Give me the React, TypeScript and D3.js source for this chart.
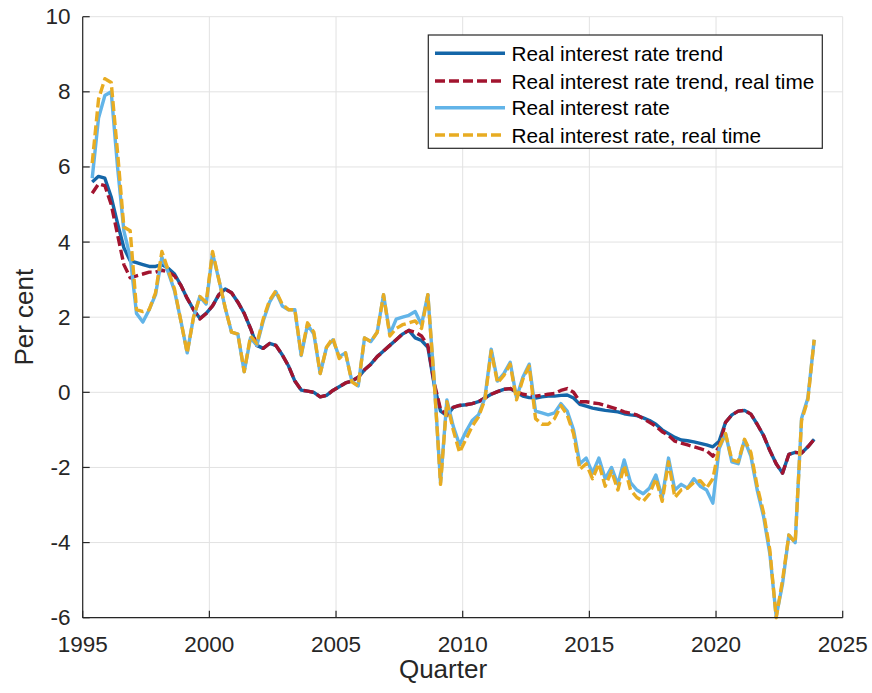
import React from "react";
import * as d3 from "d3";

// Quarterly observations, 1995Q2 .. 2023Q4 (plotted at mid-quarter)
const startYear = 1995;
const startQuarter = 2;
const nObs = 115;

const trend = [
  5.6, 5.75, 5.7, 5.2, 4.5, 3.85, 3.5, 3.45, 3.4, 3.35,
  3.35, 3.4, 3.3, 3.15, 2.85, 2.5, 2.2, 1.97, 2.1, 2.3,
  2.6, 2.75, 2.65, 2.4, 2.1, 1.7, 1.25, 1.17, 1.3, 1.25,
  1.0, 0.7, 0.3, 0.06, 0.03, 0.0, -0.12, -0.08, 0.05, 0.15,
  0.25, 0.3, 0.4, 0.6, 0.75, 0.95, 1.1, 1.25, 1.4, 1.55,
  1.65, 1.45, 1.38, 1.2, 0.2, -0.5, -0.62, -0.4, -0.35, -0.33,
  -0.3, -0.25, -0.15, -0.05, 0.02, 0.08, 0.1, 0.0, -0.1, -0.14,
  -0.15, -0.12, -0.1, -0.1, -0.08, -0.07, -0.15, -0.32, -0.37, -0.42,
  -0.45, -0.48, -0.5, -0.52, -0.57, -0.6, -0.62, -0.68, -0.75, -0.85,
  -1.0, -1.1, -1.2, -1.27, -1.29, -1.32, -1.36, -1.4, -1.45, -1.3,
  -0.8, -0.6, -0.5, -0.48, -0.58, -0.85, -1.15, -1.55, -1.9, -2.15,
  -1.65, -1.6, -1.62, -1.45, -1.25,
];

const trendRealTime = [
  5.3, 5.55, 5.5, 5.0, 4.2, 3.4, 3.05, 3.1, 3.15, 3.2,
  3.2, 3.25, 3.2, 3.1, 2.85, 2.5, 2.2, 1.95, 2.1, 2.3,
  2.6, 2.75, 2.65, 2.4, 2.1, 1.7, 1.25, 1.17, 1.3, 1.25,
  1.0, 0.7, 0.3, 0.06, 0.03, 0.0, -0.12, -0.08, 0.05, 0.15,
  0.25, 0.3, 0.4, 0.6, 0.75, 0.95, 1.1, 1.25, 1.4, 1.55,
  1.65, 1.6, 1.5, 1.25, 0.25, -0.45, -0.6, -0.4, -0.35, -0.33,
  -0.3, -0.25, -0.15, -0.05, 0.02, 0.08, 0.1, 0.02, -0.05, -0.08,
  -0.1, -0.08, -0.05, -0.03, 0.05, 0.1, 0.0, -0.25, -0.25, -0.28,
  -0.3, -0.35, -0.4, -0.45, -0.52, -0.56, -0.6, -0.7, -0.8, -0.9,
  -1.05, -1.15, -1.3, -1.35, -1.4, -1.45, -1.5, -1.55, -1.7, -1.45,
  -0.8, -0.6, -0.5, -0.48, -0.58, -0.85, -1.15, -1.55, -1.9, -2.15,
  -1.65, -1.6, -1.62, -1.45, -1.25,
];

const realRate = [
  5.7, 7.3, 7.9, 8.0, 6.0, 4.3, 3.6, 2.1, 1.87, 2.2,
  2.6, 3.6, 3.2, 2.7, 1.9, 1.05, 2.0, 2.55, 2.35, 3.7,
  3.0, 2.25, 1.6, 1.55, 0.55, 1.45, 1.25, 1.9, 2.4, 2.68,
  2.3, 2.2, 2.2, 0.98, 1.8, 1.55, 0.5, 1.2, 1.4, 0.95,
  1.05, 0.3, 0.17, 1.45, 1.35, 1.6, 2.6, 1.55, 1.95, 2.0,
  2.05, 2.15, 1.8, 2.6, 0.3, -2.4, -0.2, -0.9, -1.4, -1.05,
  -0.75, -0.6, -0.15, 1.15, 0.3, 0.5, 0.8, -0.15, 0.4, 0.75,
  -0.5, -0.55, -0.6, -0.55, -0.3, -0.5, -1.0, -1.9, -1.75, -2.15,
  -1.75, -2.3, -2.0, -2.45, -1.8, -2.4, -2.6, -2.7, -2.55, -2.2,
  -2.8, -1.75, -2.6, -2.45, -2.55, -2.3, -2.5, -2.6, -2.95, -1.5,
  -1.1, -1.85, -1.9, -1.27, -1.7, -2.6, -3.3, -4.3, -5.97, -5.1,
  -3.8, -4.0, -0.7, -0.15, 1.4,
];

const realRateRealTime = [
  6.1, 7.8, 8.35, 8.25, 6.4, 4.4, 4.3, 2.2, 2.15, 2.2,
  2.65, 3.75, 3.25, 2.75, 1.9, 1.05, 2.0, 2.55, 2.4, 3.75,
  3.0, 2.25, 1.6, 1.55, 0.55, 1.5, 1.3, 1.95, 2.45, 2.7,
  2.35, 2.2, 2.2, 1.0, 1.85, 1.6, 0.5, 1.2, 1.45, 0.9,
  1.05, 0.28, 0.17, 1.45, 1.35, 1.6, 2.6, 1.5, 1.7, 1.8,
  1.85, 1.9, 1.7, 2.6, 0.3, -2.45, -0.25, -1.0, -1.6, -1.25,
  -0.9, -0.65, -0.2, 1.1, 0.25, 0.45, 0.75, -0.2, 0.35, 0.7,
  -0.7, -0.85, -0.85, -0.7, -0.35, -0.6, -1.1, -2.05, -1.9, -2.3,
  -1.9, -2.5, -2.1, -2.6, -1.95, -2.6, -2.8, -2.9, -2.7, -2.3,
  -2.9, -1.85, -2.8, -2.6, -2.55, -2.4, -2.35, -2.55, -2.3, -1.45,
  -1.1, -1.8, -1.85, -1.25, -1.6, -2.5, -3.2, -4.2, -6.0, -5.0,
  -3.8, -4.0, -0.75, -0.2, 1.4,
];

const xTicks = [1995, 2000, 2005, 2010, 2015, 2020, 2025];
const yTicks = [-6, -4, -2, 0, 2, 4, 6, 8, 10];

const seriesNames = [
  "Real interest rate trend",
  "Real interest rate trend, real time",
  "Real interest rate",
  "Real interest rate, real time",
];

const dates = d3.range(nObs).map(
  (i) => startYear + (startQuarter - 1) / 4 + 0.125 + i / 4
);

const W = 872;
const H = 693;
const left = 82.7;
const right = 842.7;
const top = 16.7;
const bottom = 617.7;

const FONT = "'Liberation Sans', Arial, Helvetica, sans-serif";
const AX = "#262626";
const GRID = "#e2e2e2";

const styles = [
  { color: "#1466a8", dash: "none", width: 3.4 },
  { color: "#a2142f", dash: "10,4", width: 3.4 },
  { color: "#62b4e8", dash: "none", width: 3.4 },
  { color: "#e8ac22", dash: "10,4", width: 3.4 },
];

export default function App() {
  const x = d3.scaleLinear().domain([1995, 2025]).range([left, right]);
  const y = d3.scaleLinear().domain([-6, 10]).range([bottom, top]);
  const line = d3
    .line<number>()
    .x((_, i) => x(dates[i]))
    .y((d) => y(d));

  const series = [trend, trendRealTime, realRate, realRateRealTime];

  const legX = 428.3;
  const legY = 35;
  const legW = 394;
  const legH = 113.3;
  const rowY = [53.3, 81, 107.8, 135];

  return (
    <svg
      width={W}
      height={H}
      style={{ position: "absolute", left: 0, top: 0, background: "#fff" }}
      xmlns="http://www.w3.org/2000/svg"
    >
      <rect x={0} y={0} width={W} height={H} fill="#fff" />
      <defs>
        <clipPath id="plotclip">
          <rect x={left} y={top - 2} width={right - left} height={bottom - top + 4} />
        </clipPath>
      </defs>
      {/* grid */}
      <g>
        {xTicks.map((t) => (
          <line
            key={"gx" + t}
            x1={x(t)}
            x2={x(t)}
            y1={top}
            y2={bottom}
            stroke={GRID}
            strokeWidth={1}
          />
        ))}
        {yTicks.map((t) => (
          <line
            key={"gy" + t}
            x1={left}
            x2={right}
            y1={y(t)}
            y2={y(t)}
            stroke={GRID}
            strokeWidth={1}
          />
        ))}
      </g>
      {/* series */}
      <g clipPath="url(#plotclip)" fill="none" strokeLinejoin="round">
        {series.map((s, k) => (
          <path
            key={"s" + k}
            d={line(s) || ""}
            stroke={styles[k].color}
            strokeWidth={styles[k].width}
            strokeDasharray={styles[k].dash}
          />
        ))}
      </g>
      {/* axes */}
      <g stroke={AX} strokeWidth={1.2}>
        <line x1={left} x2={left} y1={top} y2={bottom} />
        <line x1={left} x2={right} y1={bottom} y2={bottom} />
        {xTicks.map((t) => (
          <line key={"tx" + t} x1={x(t)} x2={x(t)} y1={bottom} y2={bottom - 7} />
        ))}
        {yTicks.map((t) => (
          <line key={"ty" + t} x1={left} x2={left + 7} y1={y(t)} y2={y(t)} />
        ))}
      </g>
      <g fontFamily={FONT} fontSize={22.5} fill={AX}>
        {xTicks.map((t) => (
          <text key={"lx" + t} x={x(t)} y={651.5} textAnchor="middle">
            {t}
          </text>
        ))}
        {yTicks.map((t) => (
          <text
            key={"ly" + t}
            x={70.5}
            y={y(t)}
            textAnchor="end"
            dominantBaseline="central"
          >
            {t}
          </text>
        ))}
      </g>
      <text
        x={443}
        y={678}
        textAnchor="middle"
        fontFamily={FONT}
        fontSize={26}
        fill={AX}
      >
        Quarter
      </text>
      <text
        transform={`translate(33,${(top + bottom) / 2}) rotate(-90)`}
        textAnchor="middle"
        fontFamily={FONT}
        fontSize={26}
        fill={AX}
      >
        Per cent
      </text>
      {/* legend */}
      <g>
        <rect
          x={legX}
          y={legY}
          width={legW}
          height={legH}
          fill="#fff"
          stroke={AX}
          strokeWidth={1.2}
        />
        {seriesNames.map((name, k) => (
          <g key={"leg" + k}>
            <line
              x1={435}
              x2={505}
              y1={rowY[k]}
              y2={rowY[k]}
              stroke={styles[k].color}
              strokeWidth={styles[k].width}
              strokeDasharray={styles[k].dash}
            />
            <text
              x={511.5}
              y={rowY[k]}
              dominantBaseline="central"
              fontFamily={FONT}
              fontSize={20.8}
              fill="#000"
            >
              {name}
            </text>
          </g>
        ))}
      </g>
    </svg>
  );
}
